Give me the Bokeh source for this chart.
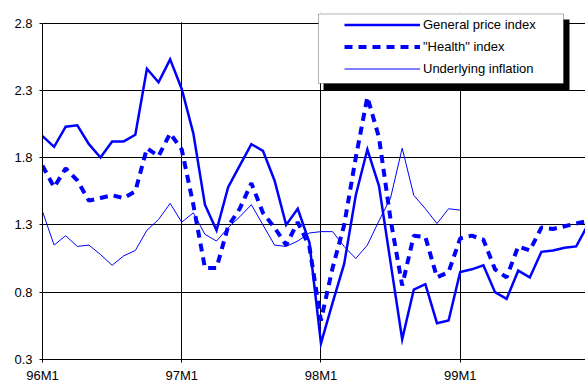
from bokeh.plotting import figure
from bokeh.models import FixedTicker, Legend, LegendItem, BoxAnnotation, Range1d
from bokeh.embed import file_html
from bokeh.resources import INLINE

# ---- data (month index 0 = 96M1) ----
months = list(range(48))
general = [1.96, 1.88, 2.03, 2.04, 1.90, 1.80, 1.92, 1.92, 1.97, 2.46, 2.36, 2.53,
           2.31, 1.98, 1.45, 1.26, 1.58, 1.74, 1.90, 1.85, 1.63, 1.30, 1.42, 1.17,
           0.42, 0.72, 1.01, 1.52, 1.86, 1.59, 1.02, 0.45, 0.82, 0.86, 0.57, 0.59,
           0.95, 0.97, 1.00, 0.80, 0.75, 0.96, 0.91, 1.10, 1.11, 1.13, 1.14, 1.30]
health = [1.74, 1.58, 1.72, 1.63, 1.48, 1.50, 1.52, 1.50, 1.55, 1.87, 1.81, 1.98,
          1.86, 1.45, 0.98, 0.98, 1.29, 1.42, 1.61, 1.39, 1.28, 1.15, 1.32, 1.14,
          0.59, 0.98, 1.30, 1.80, 2.25, 1.95, 1.34, 0.85, 1.22, 1.21, 0.91, 0.95,
          1.20, 1.22, 1.19, 0.97, 0.91, 1.14, 1.11, 1.28, 1.27, 1.29, 1.31, 1.33]
under_months = list(range(37))
underlying = [1.40, 1.15, 1.22, 1.14, 1.15, 1.08, 1.00, 1.07, 1.11, 1.26, 1.34, 1.46,
              1.32, 1.39, 1.23, 1.18, 1.28, 1.36, 1.45, 1.30, 1.15, 1.14, 1.18, 1.24,
              1.25, 1.25, 1.14, 1.05, 1.15, 1.33, 1.50, 1.87, 1.52, 1.42, 1.31, 1.42,
              1.41]

x_ticks = [0, 12, 24, 36]
x_tick_labels = ["96M1", "97M1", "98M1", "99M1"]
y_ticks = [0.3, 0.8, 1.3, 1.8, 2.3, 2.8]
y_tick_labels = ["0.3", "0.8", "1.3", "1.8", "2.3", "2.8"]
series_names = ["General price index", "\"Health\" index", "Underlying inflation"]

FONT = "Liberation Sans"
BLUE = "#0000ff"

Y_MIN, Y_MAX = y_ticks[0], y_ticks[-1]
# frame extends a little above the top tick so the legend box fits in it
Y_TOP = Y_MAX + 10.5 * (Y_MAX - Y_MIN) / 336.5

p = figure(width=585, height=385, output_backend="svg", toolbar_location=None,
           x_range=Range1d(0, 46.8), y_range=Range1d(Y_MIN, Y_TOP),
           min_border_left=42, min_border_right=0, min_border_top=12,
           min_border_bottom=0)
p.outline_line_color = None
p.background_fill_color = "white"
p.border_fill_color = "white"

r1 = p.line(months, general, line_color=BLUE, line_width=2.5, line_join="miter")
r2 = p.line(months, health, line_color=BLUE, line_width=4, line_dash="8 6",
            line_cap="butt")
r3 = p.line(under_months, underlying, line_color=BLUE, line_width=1)

p.xaxis.ticker = FixedTicker(ticks=x_ticks)
p.xaxis.major_label_overrides = dict(zip(x_ticks, x_tick_labels))
p.yaxis.ticker = FixedTicker(ticks=y_ticks)
p.yaxis.major_label_overrides = dict(zip(y_ticks, y_tick_labels))
p.yaxis.bounds = (Y_MIN, Y_MAX)

for ax in (p.xaxis[0], p.yaxis[0]):
    ax.axis_line_color = "black"
    ax.axis_line_width = 1
    ax.major_tick_line_color = "black"
    ax.major_tick_out = 3
    ax.major_tick_in = 0
    ax.minor_tick_line_color = None
    ax.major_label_text_font = FONT
    ax.major_label_text_font_size = "13px"
    ax.major_label_text_color = "black"
p.yaxis.major_label_standoff = 7
p.xaxis.major_label_standoff = 5

p.grid.grid_line_color = "black"
p.grid.grid_line_alpha = 1
p.grid.grid_line_width = 1

# white strip hiding grid lines above the top tick
mask = BoxAnnotation(left=-1, right=60, bottom=Y_MAX + 0.006, top=Y_TOP + 1,
                     fill_color="white", fill_alpha=1, line_color=None)
shadow = BoxAnnotation(left=323, right=569, top=19, bottom=90,
                       left_units="canvas", right_units="canvas",
                       top_units="canvas", bottom_units="canvas",
                       fill_color="black", fill_alpha=1, line_color=None)
box = BoxAnnotation(left=318, right=563, top=13.5, bottom=83,
                    left_units="canvas", right_units="canvas",
                    top_units="canvas", bottom_units="canvas",
                    fill_color="white", fill_alpha=1, line_color="black",
                    line_width=1)
p.add_layout(mask)
p.add_layout(shadow)
p.add_layout(box)

legend = Legend(items=[LegendItem(label=series_names[0], renderers=[r1]),
                       LegendItem(label=series_names[1], renderers=[r2]),
                       LegendItem(label=series_names[2], renderers=[r3])],
                location=(302, 281), orientation="vertical",
                border_line_color=None, background_fill_alpha=0,
                padding=0, margin=0, spacing=3, glyph_width=76,
                glyph_height=19, label_height=19, label_standoff=3,
                label_text_font=FONT, label_text_font_size="13px",
                label_text_color="black")
p.add_layout(legend)

open("out.html", "w").write(file_html(p, INLINE))
